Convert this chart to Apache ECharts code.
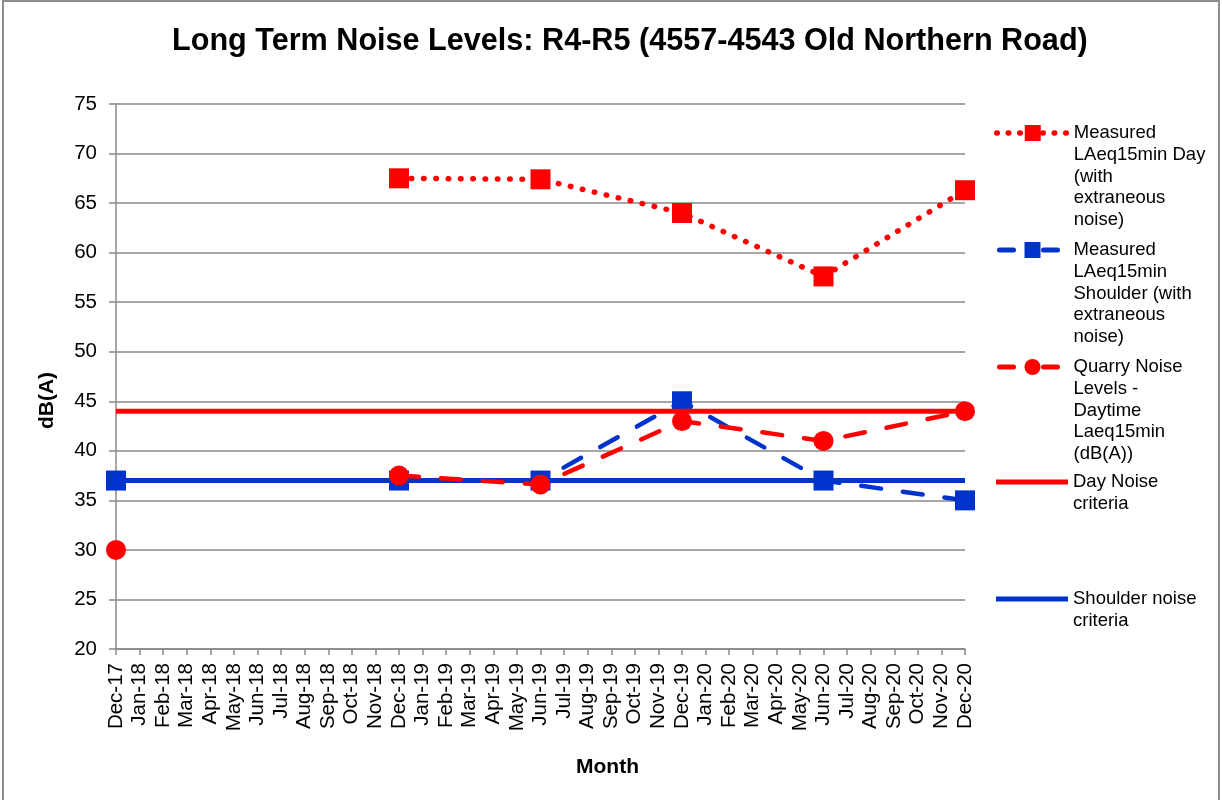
<!DOCTYPE html>
<html>
<head>
<meta charset="utf-8">
<script src="https://cdn.jsdelivr.net/npm/echarts@6/dist/echarts.min.js"></script>
<style>html,body{margin:0;padding:0;background:#fff}#chart{width:1222px;height:800px}</style>
</head>
<body>
<div id="chart"></div>
<script>
var months = ['Dec-17','Jan-18','Feb-18','Mar-18','Apr-18','May-18','Jun-18','Jul-18','Aug-18','Sep-18','Oct-18','Nov-18',
  'Dec-18','Jan-19','Feb-19','Mar-19','Apr-19','May-19','Jun-19','Jul-19','Aug-19','Sep-19','Oct-19','Nov-19',
  'Dec-19','Jan-20','Feb-20','Mar-20','Apr-20','May-20','Jun-20','Jul-20','Aug-20','Sep-20','Oct-20','Nov-20','Dec-20'];
var yTicks = [20,25,30,35,40,45,50,55,60,65,70,75];

// [month, dB(A)]
var dayMeasured = [['Dec-18',67.5],['Jun-19',67.4],['Dec-19',64.0],['Jun-20',57.6],['Dec-20',66.3]];
var shoulderMeasuredFirst = [['Dec-17',37.0]];
var shoulderMeasured = [['Dec-18',37.0],['Jun-19',37.0],['Dec-19',45.0],['Jun-20',37.0],['Dec-20',35.0]];
var quarryFirst = [['Dec-17',30.0]];
var quarry = [['Dec-18',37.5],['Jun-19',36.6],['Dec-19',43.0],['Jun-20',41.0],['Dec-20',44.0]];
var dayCriteria = [['Dec-17',44],['Dec-20',44]];
var shoulderCriteria = [['Dec-17',37],['Dec-20',37]];

var names = [
  'Measured\nLAeq15min Day\n(with\nextraneous\nnoise)',
  'Measured\nLAeq15min\nShoulder (with\nextraneous\nnoise)',
  'Quarry Noise\nLevels -\nDaytime\nLaeq15min\n(dB(A))',
  'Day Noise\ncriteria',
  'Shoulder noise\ncriteria'
];
var RED = '#FF0000', BLUE = '#0033CC';
var FONT = '"Liberation Sans", Arial, sans-serif';

var styles = [
  {color: RED, width: 5.5, type: [0.5, 11.8], cap: 'round'},
  {color: BLUE, width: 4.5, type: [20, 22], cap: 'round'},
  {color: RED, width: 4.5, type: [20, 22], cap: 'round'},
  {color: RED, width: 5, type: 'solid'},
  {color: BLUE, width: 5, type: 'solid'}
];
var legendStyles = [
  {color: RED, width: 5.5, type: [0.5, 11], cap: 'round'},
  {color: BLUE, width: 5, type: [14, 30], cap: 'round', dashOffset: -3},
  {color: RED, width: 5, type: [14, 30], cap: 'round', dashOffset: -3},
  {color: RED, width: 5, type: 'solid'},
  {color: BLUE, width: 5, type: 'solid'}
];

var chart = echarts.init(document.getElementById('chart'), null, {renderer:'canvas'});

var LH = 21.75;
var legendFirstLineY = [133, 250, 367, 482, 599];
function padName(n){ var k = n.split('\n').length; var pre=''; for (var i=0;i<k-1;i++) pre+='\n'; return pre + n; }
function legendFor(idx, icon){
  var n = names[idx];
  var k = n.split('\n').length;
  var item = {name: n};
  if (icon) item.icon = icon;
  return {
    data: [item],
    orient: 'vertical',
    left: icon ? 996 : 994,
    top: legendFirstLineY[idx] - (2*k-1)*LH/2,
    padding: 0,
    itemWidth: 72,
    itemHeight: 20,
    itemGap: 0,
    selectedMode: false,
    symbolKeepAspect: true,
    lineStyle: legendStyles[idx],
    formatter: function(name){ return padName(name); },
    textStyle: {fontFamily: FONT, fontSize: 18.5, color: '#000', lineHeight: LH}
  };
}
var barIcon = 'path://M0,0H72V5H0Z';

chart.setOption({
  animation: false,
  backgroundColor: '#fff',
  title: {
    text: 'Long Term Noise Levels: R4-R5 (4557-4543 Old Northern Road)',
    left: 167, top: 21,
    textStyle: {fontFamily: FONT, fontSize: 30.6, fontWeight: 'bold', color: '#000'}
  },
  graphic: [{
    type: 'rect', shape: {x: 3, y: 1, width: 1216, height: 810},
    style: {fill: 'none', stroke: '#8c8c8c', lineWidth: 2}, silent: true, z: -10
  }],
  legend: [
    legendFor(0), legendFor(1), legendFor(2), legendFor(3, barIcon), legendFor(4, barIcon)
  ],
  grid: {left: 116, right: 257, top: 104, bottom: 151, containLabel: false},
  xAxis: {
    type: 'category', data: months, boundaryGap: false,
    name: 'Month', nameLocation: 'middle', nameGap: 108,
    nameTextStyle: {fontFamily: FONT, fontSize: 21, fontWeight: 'bold', color: '#000', padding: [0,0,0,134]},
    axisLine: {lineStyle: {color: '#888', width: 1.5}},
    axisTick: {show: true, alignWithLabel: true, interval: 0, length: 6, lineStyle: {color: '#888', width: 1.5}},
    axisLabel: {interval: 0, rotate: 90, margin: 14, fontFamily: FONT, fontSize: 20.5, color: '#000'},
    splitLine: {show: false}
  },
  yAxis: {
    type: 'value', min: 20, max: 75, interval: 5,
    name: 'dB(A)', nameLocation: 'middle', nameGap: 58, nameRotate: 90,
    nameTextStyle: {fontFamily: FONT, fontSize: 21, fontWeight: 'bold', color: '#000', padding: [0,48,0,0]},
    axisLine: {show: true, lineStyle: {color: '#888', width: 1.5}},
    axisTick: {show: true, inside: false, length: 7, lineStyle: {color: '#888', width: 1.5}},
    axisLabel: {margin: 19, fontFamily: FONT, fontSize: 20.5, color: '#000',
      formatter: function(v){ return yTicks.indexOf(v) >= 0 ? String(v) : ''; }},
    splitLine: {show: true, lineStyle: {color: '#888', width: 1.5}}
  },
  series: [
    {name: names[0], type: 'line', data: dayMeasured, z: 3,
     symbol: 'rect', symbolSize: 20, itemStyle: {color: RED}, lineStyle: styles[0]},
    {name: names[1], type: 'line', data: shoulderMeasured, z: 3,
     symbol: 'rect', symbolSize: 20, itemStyle: {color: BLUE}, lineStyle: styles[1]},
    {name: names[1], type: 'line', data: shoulderMeasuredFirst, z: 3,
     symbol: 'rect', symbolSize: 20, itemStyle: {color: BLUE}, lineStyle: styles[1]},
    {name: names[2], type: 'line', data: quarry, z: 5,
     symbol: 'circle', symbolSize: 20, itemStyle: {color: RED}, lineStyle: styles[2]},
    {name: names[2], type: 'line', data: quarryFirst, z: 5,
     symbol: 'circle', symbolSize: 20, itemStyle: {color: RED}, lineStyle: styles[2]},
    {name: names[3], type: 'line', data: dayCriteria, z: 4,
     symbol: 'none', itemStyle: {color: RED}, lineStyle: styles[3]},
    {name: names[4], type: 'line', data: shoulderCriteria, z: 4,
     symbol: 'none', itemStyle: {color: BLUE}, lineStyle: styles[4]}
  ]
});
</script>
</body>
</html>
